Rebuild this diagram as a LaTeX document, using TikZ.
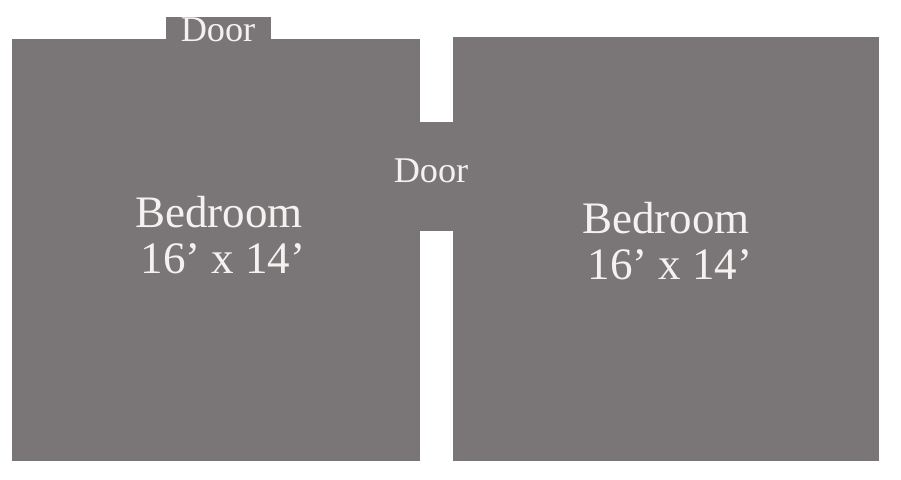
\documentclass[tikz,border=0pt]{standalone}
\usepackage{fontspec}
\usepackage{xcolor}
\setmainfont{Liberation Serif}
\definecolor{wall}{HTML}{7A7677}
\definecolor{lab}{HTML}{F4F2F0}
\tikzset{
  room/.style={fill=wall, draw=none},
  roomlab/.style={text=lab, font=\fontsize{12.8}{13.3}\selectfont, align=center, inner sep=0pt},
  doorlab/.style={text=lab, font=\fontsize{10.3}{12}\selectfont, inner sep=0pt},
}

\begin{document}
\begin{tikzpicture}[x=0.01cm,y=-0.01cm]
  \useasboundingbox (0,0) rectangle (901,480);

  \fill[room] (12,39) rectangle (420,461);    % left bedroom
  \fill[room] (453,37) rectangle (879,461);   % right bedroom
  \fill[room] (166,17) rectangle (271,39);    % door on top
  \fill[room] (420,122) rectangle (453,231);  % door between

  \node[doorlab] (topdoor) at (218,30) {Door};
  \node[doorlab] (middoor) at (431,171) {Door};
  \node[roomlab] (leftbed) at (219,235) {Bedroom\\\hspace*{0.08cm}16’ x 14’};
  \node[roomlab] (rightbed) at (666,241) {Bedroom\\\hspace*{0.08cm}16’ x 14’};
\end{tikzpicture}
\end{document}
